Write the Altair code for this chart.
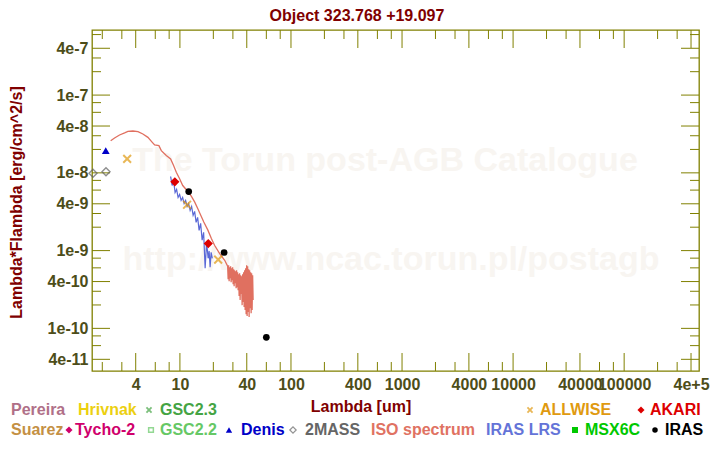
import altair as alt
import pandas as pd

# ---------------- data ----------------
twomass_lam = [1.65, 2.16]
twomass_flux = [9.9e-9, 1.03e-8]
denis_lam = [2.15]
denis_flux = [1.93e-8]
allwise_lam = [3.35, 11.6, 22.1]
allwise_flux = [1.51e-8, 3.89e-9, 7.67e-10]
akari_lam = [9.0, 18.0]
akari_flux = [7.67e-9, 1.23e-9]
iras_lam = [12.0, 25.0, 60.0]
iras_flux = [5.75e-9, 9.45e-10, 7.67e-11]

iso_lam = [2.38, 2.58, 2.86, 3.18, 3.40, 3.77, 4.19, 4.64, 5.15, 5.64, 5.92, 6.47,
           6.80, 7.54, 8.25, 8.77, 9.28, 9.94, 10.6, 11.6, 12.7, 13.6, 14.5, 16.4,
           17.9, 19.2, 20.5, 22.8, 25.3,
           26.90, 27.18, 27.46, 27.75, 28.04, 28.33, 28.62, 28.92, 29.22, 29.53,
           29.83, 30.14, 30.46, 30.78, 31.10, 31.42, 31.75, 32.08, 32.41, 32.75,
           33.09, 33.44, 33.79, 34.14, 34.49, 34.85, 35.22, 35.58, 35.95, 36.33,
           36.71, 37.09, 37.48, 37.87, 38.26, 38.66, 39.06, 39.47, 39.88, 40.30,
           40.72, 41.14, 41.57, 42.00, 42.44, 42.88, 43.33, 43.78, 44.23, 44.69,
           45.16, 45.63]
iso_flux = [2.59e-8, 2.81e-8, 3.07e-8, 3.26e-8, 3.41e-8, 3.45e-8, 3.38e-8, 3.16e-8,
            2.86e-8, 2.47e-8, 2.29e-8, 2.24e-8, 1.93e-8, 1.67e-8, 1.51e-8, 1.24e-8,
            1.02e-8, 8.38e-9, 6.87e-9, 5.93e-9, 4.97e-9, 4.20e-9, 3.45e-9, 2.33e-9,
            1.82e-9, 1.43e-9, 1.17e-9, 9.16e-10, 7.51e-10,
            6.29e-10, 4.29e-10, 6.48e-10, 4.04e-10, 6.11e-10, 4.41e-10, 6.29e-10,
            3.92e-10, 5.93e-10, 4.16e-10, 6.11e-10, 3.70e-10, 5.76e-10, 3.49e-10,
            5.59e-10, 3.81e-10, 5.43e-10, 3.29e-10, 5.59e-10, 3.38e-10, 5.27e-10,
            3.10e-10, 4.97e-10, 2.60e-10, 5.12e-10, 2.31e-10, 4.82e-10, 2.76e-10,
            4.69e-10, 1.99e-10, 4.97e-10, 2.18e-10, 5.27e-10, 1.88e-10, 5.59e-10,
            1.72e-10, 5.93e-10, 1.52e-10, 6.48e-10, 1.44e-10, 6.29e-10, 1.62e-10,
            5.76e-10, 1.40e-10, 5.59e-10, 1.82e-10, 5.27e-10, 1.57e-10, 5.12e-10,
            1.72e-10, 4.82e-10, 2.31e-10]

lrs_lam = [8.25, 8.51, 8.77, 9.05, 9.34, 9.63, 9.94, 10.25, 10.58, 10.91, 11.26,
           11.61, 11.98, 12.36, 12.75, 13.15, 13.57, 13.99, 14.44, 14.89, 15.37,
           15.85, 16.35, 16.87, 17.40, 17.95, 18.33, 18.71, 19.10, 19.58]
lrs_flux = [8.97e-9, 6.87e-9, 7.96e-9, 5.58e-9, 6.11e-9, 4.82e-9, 5.27e-9, 4.42e-9,
            4.82e-9, 4.04e-9, 4.42e-9, 3.70e-9, 4.04e-9, 3.29e-9, 3.70e-9, 2.84e-9,
            3.19e-9, 2.31e-9, 2.67e-9, 1.82e-9, 2.24e-9, 1.36e-9, 1.72e-9, 5.93e-10,
            1.28e-9, 7.96e-10, 9.91e-10, 6.11e-10, 9.51e-10, 7.96e-10]

x_major = [4, 10, 40, 100, 400, 1000, 4000, 10000, 40000, 100000, 400000]
x_minor = [2, 3, 6, 8, 20, 30, 60, 80, 200, 300, 600, 800, 2000, 3000, 6000, 8000,
           20000, 30000, 60000, 80000, 200000, 300000]
y_major = [4e-11, 1e-10, 4e-10, 1e-9, 4e-9, 1e-8, 4e-8, 1e-7, 4e-7]
y_minor = [6e-11, 8e-11, 2e-10, 3e-10, 6e-10, 8e-10, 2e-9, 3e-9, 6e-9, 8e-9,
           2e-8, 3e-8, 6e-8, 8e-8, 2e-7, 3e-7, 6e-7]

title_text = "Object 323.768 +19.097"
x_title = "Lambda [um]"
y_title = "Lambda*Flambda [erg/cm^2/s]"
watermark = ["The Torun post-AGB Catalogue", "http://www.ncac.torun.pl/postagb"]

legend_names = ["Pereira", "Hrivnak", "GSC2.3", "ALLWISE", "AKARI",
                "Suarez", "Tycho-2", "GSC2.2", "Denis", "2MASS",
                "ISO spectrum", "IRAS LRS", "MSX6C", "IRAS"]
legend_colors = ["#b07088", "#ecd010", "#44a444", "#e09a10", "#dd0000",
                 "#c49044", "#d0006c", "#66c866", "#0000c8", "#666666",
                 "#e07262", "#6474d8", "#00c800", "#000000"]
legend_symbols = [None, None, "x", "x", "diamond",
                  None, "diamond", "square-open", "triangle-up", "diamond-open",
                  None, None, "square", "circle"]

# ---------------- layout / style ----------------
W, H = 607, 341
OX, OY = 92, 30          # page position of plot origin
FONT = "Liberation Sans"
OLIVE = "#808000"
LABEL = "#4d4d19"
DARKRED = "#800000"
# legend layout: (text left x, symbol x, row center y) in page pixels
legend_layout = [(11, None, 410), (78, None, 410), (160, 149, 410), (540, 530, 410), (650, 641, 410),
                 (11, None, 430), (75, 69, 430), (160, 151, 430), (241, 229, 430), (305, 293, 430),
                 (371, None, 430), (486, None, 430), (585, 575, 430), (665, 655, 430)]

xscale = alt.Scale(type="log", domain=[1.616, 4.72e5], nice=False, zero=False)
yscale = alt.Scale(type="log", domain=[2.83e-11, 6.87e-7], nice=False, zero=False)
xaxis = alt.Axis(values=x_major, title=None, ticks=False, tickSize=0, domain=False, grid=False,
                 labelFont=FONT, labelFontSize=16, labelFontWeight="bold", labelColor=LABEL,
                 labelPadding=5, labelOverlap=False, labelFlush=False,
                 labelExpr="datum.value >= 200000 ? format(datum.value, '.0e') : format(datum.value, 'd')")
yaxis = alt.Axis(values=y_major, title=None, ticks=False, tickSize=0, domain=False, grid=False,
                 labelFont=FONT, labelFontSize=16, labelFontWeight="bold", labelColor=LABEL,
                 labelPadding=4, labelOverlap=False, labelFlush=False,
                 labelExpr="format(datum.value, '.0e')")


def X(f):
    return alt.X(f, type="quantitative", scale=xscale, axis=xaxis)


def Y(f):
    return alt.Y(f, type="quantitative", scale=yscale, axis=yaxis)


def df(lam, flux):
    return pd.DataFrame({"lam": lam, "flux": flux, "i": list(range(len(lam)))})


def text(s, px, py, color, size=16, align="left", angle=0):
    return alt.Chart(pd.DataFrame({"t": [s]})).mark_text(
        align=align, baseline="middle", font=FONT, fontSize=size, fontWeight="bold",
        color=color, angle=angle
    ).encode(text="t:N", x=alt.value(px - OX), y=alt.value(py - OY))


XSHAPE = "M-1,-1L1,1M1,-1L-1,1"

layers = []
# watermark
layers.append(text(watermark[0], 385, 161, "#f8f5f1", size=34, align="center"))
layers.append(text(watermark[1], 391, 260, "#f8f5f1", size=34, align="center"))


# ticks (drawn inside the frame)
def tick_layers(vals, length):
    d = pd.DataFrame({"v": vals})
    base = alt.Chart(d).mark_rule(color=OLIVE, strokeWidth=1)
    return [base.encode(x=X("v"), y=alt.value(H), y2=alt.value(H - length)),
            base.encode(x=X("v"), y=alt.value(0), y2=alt.value(length))]


def ytick_layers(vals, length):
    d = pd.DataFrame({"v": vals})
    base = alt.Chart(d).mark_rule(color=OLIVE, strokeWidth=1)
    return [base.encode(y=Y("v"), x=alt.value(0), x2=alt.value(length)),
            base.encode(y=Y("v"), x=alt.value(W), x2=alt.value(W - length))]


layers += tick_layers(x_major, 18) + tick_layers(x_minor, 9)
layers += ytick_layers(y_major, 18) + ytick_layers(y_minor, 9)

# spectra
layers.append(alt.Chart(df(lrs_lam, lrs_flux)).mark_line(color="#5a68d6", strokeWidth=1.2)
              .encode(x=X("lam"), y=Y("flux"), order="i:Q"))
layers.append(alt.Chart(df(iso_lam, iso_flux)).mark_line(color="#e07060", strokeWidth=1.3)
              .encode(x=X("lam"), y=Y("flux"), order="i:Q"))

# photometry
layers.append(alt.Chart(df(twomass_lam, twomass_flux)).mark_point(
    shape="diamond", size=64, filled=False, color="#606060", strokeWidth=1.4)
    .encode(x=X("lam"), y=Y("flux")))
layers.append(alt.Chart(df(denis_lam, denis_flux)).mark_point(
    shape="triangle-up", size=60, filled=True, color="#0000c8", opacity=1)
    .encode(x=X("lam"), y=Y("flux")))
layers.append(alt.Chart(df(allwise_lam, allwise_flux)).mark_point(
    shape=XSHAPE, size=60, filled=False, color="#e09a10", strokeWidth=2)
    .encode(x=X("lam"), y=Y("flux")))
layers.append(alt.Chart(df(akari_lam, akari_flux)).mark_point(
    shape="diamond", size=85, filled=True, color="#dd0000", opacity=1)
    .encode(x=X("lam"), y=Y("flux")))
layers.append(alt.Chart(df(iras_lam, iras_flux)).mark_point(
    shape="circle", size=45, filled=True, color="#000000", opacity=1)
    .encode(x=X("lam"), y=Y("flux")))

# titles
layers.append(text(title_text, 357, 16, DARKRED, align="center"))
layers.append(text(x_title, 361, 407, DARKRED, align="center"))
layers.append(alt.Chart(pd.DataFrame({"t": [y_title]})).mark_text(
    align="center", baseline="middle", font=FONT, fontSize=16, fontWeight="bold",
    color=DARKRED, angle=270).encode(text="t:N", x=alt.value(17 - OX), y=alt.value(H / 2 + 2)))

# legend
for name, col, sym, (tx, sx, ty) in zip(legend_names, legend_colors, legend_symbols, legend_layout):
    layers.append(text(name, tx, ty, col))
    if sym is None:
        continue
    one = alt.Chart(pd.DataFrame({"t": [name]}))
    pos = dict(x=alt.value(sx - OX), y=alt.value(ty - OY))
    if sym == "x":
        m = one.mark_point(shape=XSHAPE, size=26, filled=False, color=col, strokeWidth=1.8)
    elif sym == "diamond":
        m = one.mark_point(shape="diamond", size=50, filled=True, color=col, opacity=1)
    elif sym == "diamond-open":
        m = one.mark_point(shape="diamond", size=40, filled=False, color=col, strokeWidth=1.2)
    elif sym == "square-open":
        m = one.mark_point(shape="square", size=22, filled=False, color=col, strokeWidth=1.5)
    elif sym == "square":
        m = one.mark_point(shape="square", size=36, filled=True, color=col, opacity=1)
    elif sym == "triangle-up":
        m = one.mark_point(shape="triangle-up", size=40, filled=True, color=col, opacity=1)
    else:
        m = one.mark_point(shape="circle", size=30, filled=True, color=col, opacity=1)
    layers.append(m.encode(**pos))

chart = alt.layer(*layers).properties(
    width=W, height=H,
    padding={"left": OX - 8, "top": OY - 8, "right": 13, "bottom": 71},
    autosize=alt.AutoSizeParams(type="none"),
    background="white",
).configure_view(stroke=OLIVE, strokeWidth=1.3)

chart.save("out.html", embed_options={"renderer": "svg", "actions": False})
